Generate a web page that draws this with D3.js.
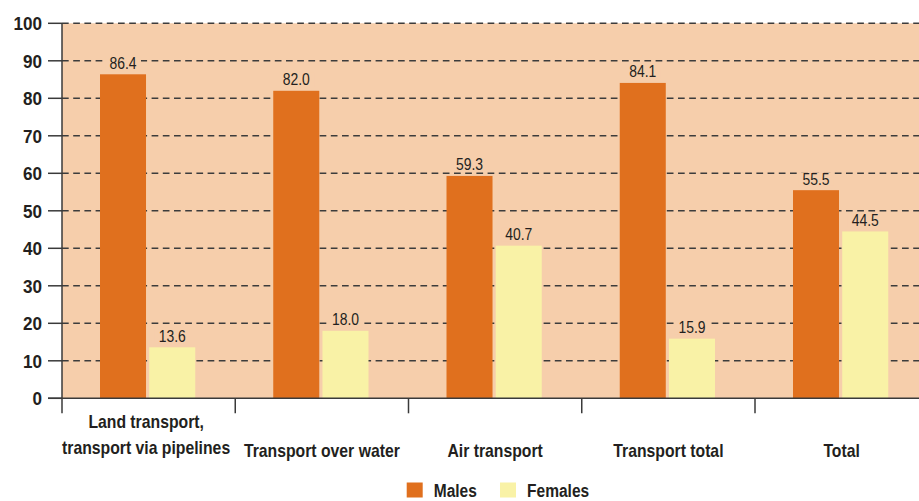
<!DOCTYPE html>
<html><head><meta charset="utf-8">
<script src="https://cdn.jsdelivr.net/npm/d3@7"></script>
<style>
html,body{margin:0;padding:0;background:#fff;}
svg{display:block;}
text{font-family:"Liberation Sans",Arial,sans-serif;fill:#231f20;}
</style></head>
<body>
<svg id="chart" width="919" height="501"></svg>
<script>
const categories = [["Land transport,", "transport via pipelines"], ["Transport over water"], ["Air transport"], ["Transport total"], ["Total"]];
const seriesNames = ["Males", "Females"];
const males = [86.4, 82.0, 59.3, 84.1, 55.5];
const females = [13.6, 18.0, 40.7, 15.9, 44.5];
const yTicks = [0, 10, 20, 30, 40, 50, 60, 70, 80, 90, 100];
const colors = ["#e0701e", "#f9f2a6"];

const svg = d3.select("#chart");
const W = 919, H = 501;
const left = 62, bandW = 173.25, y0 = 398.3, yTop = 23.3;
const bg = "#f6ceab";

// condensed text helper (horizontal squeeze to mimic a condensed face)
function ctext(parent, x, y, str, opts) {
  const g = parent.append("g").attr("transform", `translate(${x},${y}) scale(${opts.sx},1)`);
  const t = g.append("text").attr("x", 0).attr("y", 0)
    .attr("text-anchor", opts.anchor || "start")
    .attr("font-size", opts.size)
    .attr("font-weight", opts.weight || "normal")
    .text(str);
  return {g, t};
}

const catIdx = categories.map((d, i) => i);
const x0 = d3.scaleBand().domain(catIdx).range([left, left + bandW * categories.length]).padding(0);
const x1 = d3.scaleBand().domain(seriesNames).range([38, bandW - 40]).paddingInner(0.065).paddingOuter(0);
const y = d3.scaleLinear().domain([0, 100]).range([y0, yTop]);
const color = d3.scaleOrdinal().domain(seriesNames).range(colors);

// plot background
svg.append("rect").attr("x", left).attr("y", y(100)).attr("width", W - left).attr("height", y(0) - y(100)).attr("fill", bg);

// gridlines
svg.append("g").selectAll("line").data(yTicks.filter(t => t > 0)).join("line")
  .attr("x1", left).attr("x2", W).attr("y1", d => y(d)).attr("y2", d => y(d))
  .attr("stroke", "#3c3c3c").attr("stroke-width", 1.4).attr("stroke-dasharray", "6.7,4.5");

const data = categories.map((c, i) => ({i, vals: [{s: "Males", v: males[i]}, {s: "Females", v: females[i]}]}));

const groups = svg.append("g").selectAll("g").data(data).join("g")
  .attr("transform", d => `translate(${x0(d.i)},0)`);

// value labels with background
groups.each(function(d) {
  const grp = d3.select(this);
  d.vals.forEach(v => {
    const cx = x1(v.s) + x1.bandwidth() / 2;
    const {g, t} = ctext(grp, cx, y(v.v) - 5.5, v.v.toFixed(1), {sx: 0.82, size: 17, anchor: "middle"});
    const b = t.node().getBBox();
    g.insert("rect", "text").attr("x", b.x - 5).attr("y", b.y + 3).attr("width", b.width + 10).attr("height", b.height - 5).attr("fill", bg);
  });
});

// bars
groups.selectAll("rect.bar").data(d => d.vals).join("rect").attr("class", "bar")
  .attr("x", d => x1(d.s)).attr("width", x1.bandwidth())
  .attr("y", d => y(d.v)).attr("height", d => y(0) - y(d.v))
  .attr("fill", d => color(d.s));

// y axis
const axisColor = "#3a3a3a";
svg.append("line").attr("x1", left).attr("x2", left).attr("y1", y(100)).attr("y2", y0 + 15)
  .attr("stroke", axisColor).attr("stroke-width", 1.5);
const ytg = svg.append("g");
yTicks.forEach(t => {
  ytg.append("line").attr("x1", 48).attr("x2", left).attr("y1", y(t)).attr("y2", y(t))
    .attr("stroke", axisColor).attr("stroke-width", 1.5);
  ctext(ytg, 42, y(t) + 6.8, String(t), {sx: 0.9, size: 19, weight: "bold", anchor: "end"});
});

// x axis
svg.append("line").attr("x1", 48).attr("x2", W).attr("y1", y0).attr("y2", y0)
  .attr("stroke", axisColor).attr("stroke-width", 1.5);
svg.append("g").selectAll("line").data(catIdx.slice(1)).join("line")
  .attr("x1", d => x0(d)).attr("x2", d => x0(d)).attr("y1", y0).attr("y2", y0 + 15)
  .attr("stroke", axisColor).attr("stroke-width", 1.5);

// x labels
const xlg = svg.append("g");
data.forEach(d => {
  const lines = categories[d.i];
  const startY = lines.length === 1 ? 456.5 : 428.3;
  const cx = x0(d.i) + bandW / 2 - (lines.length > 1 ? 2.5 : 0);
  lines.forEach((ln, k) => {
    ctext(xlg, cx, startY + k * 26, ln, {sx: 0.83, size: 19, weight: "bold", anchor: "middle"});
  });
});

// legend
const legendX = [406.7, 500];
const lg = svg.append("g");
seriesNames.forEach((s, i) => {
  lg.append("rect").attr("x", legendX[i]).attr("y", 482.5).attr("width", 16).attr("height", 15).attr("fill", color(s));
  ctext(lg, legendX[i] + 27, 496.5, s, {sx: 0.84, size: 18.5, weight: "bold"});
});
</script>
</body></html>
